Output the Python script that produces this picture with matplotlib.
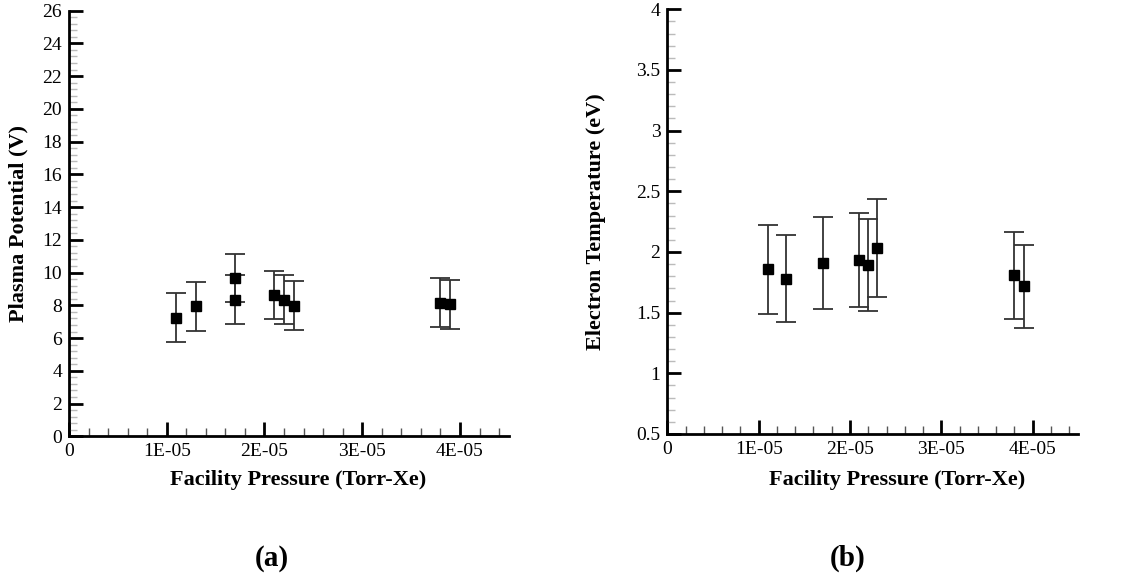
import matplotlib.pyplot as plt
from matplotlib.ticker import MultipleLocator, FuncFormatter

plt.rcParams['font.family'] = ['Liberation Serif', 'DejaVu Serif']

# facility pressure (Torr-Xe)
pressure_a = [1.1e-05, 1.3e-05, 1.7e-05, 1.7e-05, 2.1e-05, 2.2e-05, 2.3e-05, 3.8e-05, 3.9e-05]
potential = [7.24, 7.94, 9.67, 8.33, 8.65, 8.33, 7.98, 8.16, 8.06]
potential_low = [5.74, 6.41, 8.20, 6.84, 7.15, 6.88, 6.48, 6.66, 6.57]
potential_high = [8.75, 9.43, 11.14, 9.83, 10.12, 9.83, 9.47, 9.67, 9.55]

pressure_b = [1.1e-05, 1.3e-05, 1.7e-05, 2.1e-05, 2.2e-05, 2.3e-05, 3.8e-05, 3.9e-05]
temperature = [1.858, 1.778, 1.907, 1.937, 1.893, 2.033, 1.808, 1.72]
temperature_low = [1.487, 1.423, 1.528, 1.547, 1.516, 1.629, 1.446, 1.374]
temperature_high = [2.225, 2.14, 2.289, 2.322, 2.272, 2.44, 2.165, 2.061]


def x_format(v, pos):
    if abs(v) < 1e-12:
        return "0"
    return "%dE-05" % round(v / 1e-05)


def style_axes(ax, ylim, ymajor, yminor):
    for side in ["top", "right"]:
        ax.spines[side].set_visible(False)
    for side in ["left", "bottom"]:
        ax.spines[side].set_linewidth(2)
    ax.set_xlim(0, 4.5e-05)
    ax.set_ylim(*ylim)
    ax.xaxis.set_major_locator(MultipleLocator(1e-05))
    ax.xaxis.set_minor_locator(MultipleLocator(2e-06))
    ax.xaxis.set_major_formatter(FuncFormatter(x_format))
    ax.yaxis.set_major_locator(MultipleLocator(ymajor))
    ax.yaxis.set_minor_locator(MultipleLocator(yminor))
    ax.tick_params(which="major", direction="in", length=10, width=2, labelsize=14, pad=5)
    ax.tick_params(which="minor", direction="in", length=6, width=1, color="#555555")
    ax.tick_params(axis="y", which="minor", color="#bbbbbb")


fig = plt.figure(figsize=(11.25, 5.73), dpi=100)
ax1 = fig.add_axes([0.0613, 0.2386, 0.391, 0.7428])
ax2 = fig.add_axes([0.5932, 0.2426, 0.3653, 0.7412])

err_a = [[p - l for p, l in zip(potential, potential_low)],
         [h - p for p, h in zip(potential, potential_high)]]
ax1.errorbar(pressure_a, potential, yerr=err_a, fmt="s", color="black", ecolor="#333333",
             elinewidth=1.3, capsize=7, capthick=1.3, markersize=7)
style_axes(ax1, (0, 26), 2, 0.4)
ax1.set_xlabel("Facility Pressure (Torr-Xe)", fontsize=16, fontweight="bold")
ax1.xaxis.set_label_coords(0.52, -0.079)
ax1.set_ylabel("Plasma Potential (V)", fontsize=16, fontweight="bold", labelpad=10)

err_b = [[t - l for t, l in zip(temperature, temperature_low)],
         [h - t for t, h in zip(temperature, temperature_high)]]
ax2.errorbar(pressure_b, temperature, yerr=err_b, fmt="s", color="black", ecolor="#333333",
             elinewidth=1.3, capsize=7, capthick=1.3, markersize=7)
style_axes(ax2, (0.5, 4), 0.5, 0.1)
ax2.yaxis.set_major_formatter(FuncFormatter(lambda v, pos: "%g" % v))
ax2.set_xlabel("Facility Pressure (Torr-Xe)", fontsize=16, fontweight="bold")
ax2.xaxis.set_label_coords(0.56, -0.0845)
ax2.set_ylabel("Electron Temperature (eV)", fontsize=16, fontweight="bold", labelpad=22)

fig.text(272 / 1125, 1 - 558 / 573, "(a)", fontsize=21, fontweight="bold", ha="center", va="center")
fig.text(848 / 1125, 1 - 558 / 573, "(b)", fontsize=21, fontweight="bold", ha="center", va="center")

plt.savefig("out.png", dpi=100)
